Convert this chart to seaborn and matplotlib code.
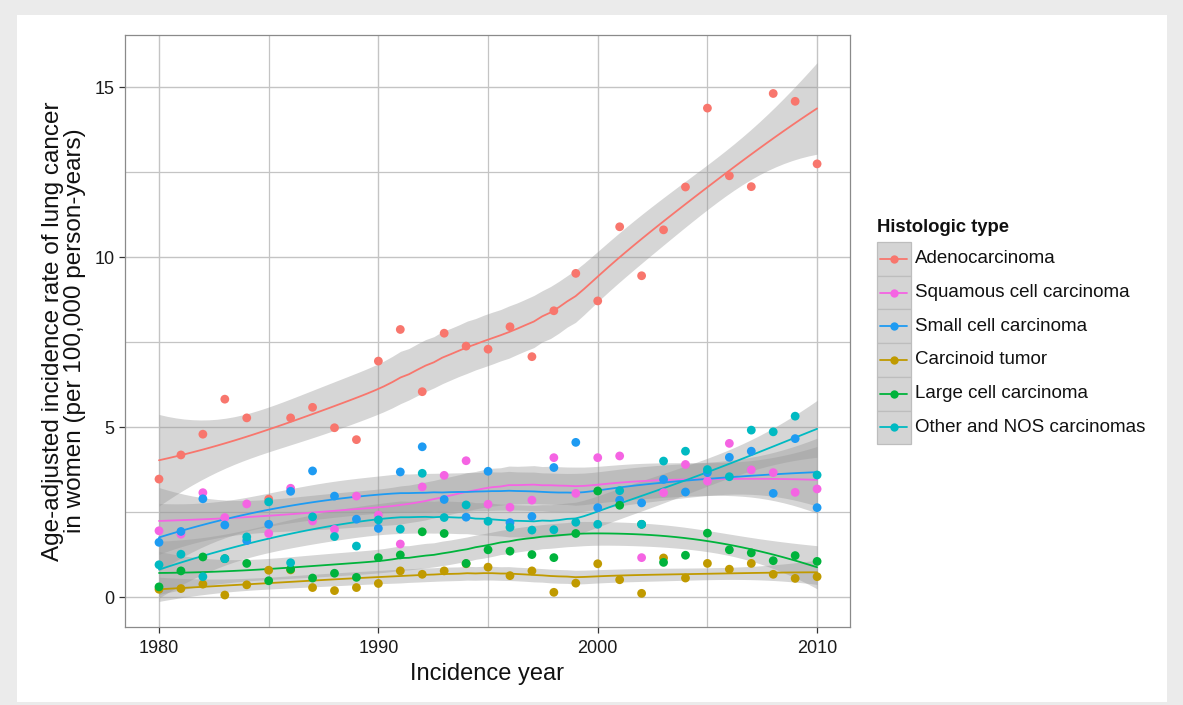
import numpy as np
import pandas as pd
import matplotlib
matplotlib.use("Agg")
import matplotlib.pyplot as plt
import seaborn as sns
from matplotlib.patches import Rectangle

# ---------------- data ----------------
years = list(range(1980, 2011))
adeno = [3.47, 4.18, 4.79, 5.82, 5.27, 2.88, 5.27, 5.58, 4.98, 4.63, 6.94, 7.87, 6.04, 7.76, 7.38,
         7.29, 7.95, 7.07, 8.42, 9.52, 8.71, 10.89, 9.45, 10.80, 12.06, 14.38, 12.39, 12.07, 14.81,
         14.58, 12.74]
squamous = [1.95, 1.85, 3.07, 2.34, 2.74, 1.87, 3.20, 2.24, 1.99, 2.97, 2.41, 1.56, 3.24, 3.58, 4.01,
            2.73, 2.64, 2.85, 4.10, 3.05, 4.10, 4.15, 1.16, 3.07, 3.90, 3.41, 4.52, 3.74, 3.66, 3.08,
            3.18]
small_cell = [1.61, 1.93, 2.89, 2.12, 1.66, 2.14, 3.11, 3.71, 2.97, 2.29, 2.02, 3.68, 4.42, 2.87, 2.35,
              3.70, 2.19, 2.37, 3.81, 4.55, 2.63, 2.85, 2.77, 3.46, 3.09, 3.66, 4.11, 4.29, 3.05, 4.66,
              2.63]
carcinoid = [0.23, 0.25, 0.38, 0.06, 0.36, 0.79, 0.80, 0.28, 0.19, 0.28, 0.40, 0.77, 0.67, 0.77, 0.98,
             0.88, 0.63, 0.77, 0.14, 0.41, 0.98, 0.51, 0.11, 1.15, 0.56, 0.99, 0.82, 0.99, 0.67, 0.55,
             0.60]
large_cell = [0.30, 0.77, 1.18, 1.13, 0.99, 0.48, 0.82, 0.56, 0.70, 0.58, 1.16, 1.24, 1.92, 1.87, 0.99,
              1.39, 1.35, 1.25, 1.16, 1.87, 3.12, 2.70, 2.14, 1.02, 1.23, 1.88, 1.39, 1.30, 1.07, 1.22,
              1.05]
other_nos = [0.95, 1.26, 0.60, 1.13, 1.77, 2.80, 1.01, 2.36, 1.78, 1.50, 2.27, 2.00, 3.64, 2.34, 2.71,
             2.23, 2.05, 1.97, 1.98, 2.20, 2.14, 3.13, 2.14, 4.00, 4.29, 3.75, 3.54, 4.91, 4.86, 5.32,
             3.59]

types = ["Adenocarcinoma", "Squamous cell carcinoma", "Small cell carcinoma",
         "Carcinoid tumor", "Large cell carcinoma", "Other and NOS carcinomas"]
series = [adeno, squamous, small_cell, carcinoid, large_cell, other_nos]
colors = ["#F8766D", "#F564E3", "#1E9BF2", "#C09A00", "#00B33C", "#00BAC2"]
palette = dict(zip(types, colors))

df = pd.concat([pd.DataFrame({"year": years, "rate": v, "type": t}) for t, v in zip(types, series)],
               ignore_index=True)


# ---------------- loess (span 0.75, degree 2) with 95% CI ----------------
def loess_weights(x, x0, span=0.75):
    n = len(x)
    q = int(np.floor(n * span))
    d = np.abs(x - x0)
    h = np.sort(d)[q - 1]
    u = np.clip(d / h, 0, 1)
    w = (1 - u ** 3) ** 3
    X = np.column_stack([np.ones(n), x - x0, (x - x0) ** 2])
    XtW = X.T * w
    A = XtW @ X
    return np.linalg.solve(A, XtW)[0]


def loess_fit(x, y, grid, span=0.75):
    x = np.asarray(x, float)
    y = np.asarray(y, float)
    n = len(x)
    L = np.array([loess_weights(x, xi, span) for xi in x])
    IL = np.eye(n) - L
    M = IL.T @ IL
    d1 = np.trace(M)
    d2 = np.trace(M @ M)
    sigma = np.sqrt(np.sum((IL @ y) ** 2) / d1)
    dfree = d1 ** 2 / d2
    z = 1.959964
    t = z + (z ** 3 + z) / (4 * dfree) + (5 * z ** 5 + 16 * z ** 3 + 3 * z) / (96 * dfree ** 2)
    Lg = np.array([loess_weights(x, g, span) for g in grid])
    fit = Lg @ y
    se = sigma * np.sqrt(np.sum(Lg ** 2, axis=1))
    return fit, fit - t * se, fit + t * se


# ---------------- style ----------------
sns.set_theme(style="white")
plt.rcParams["font.family"] = ["Liberation Sans", "DejaVu Sans"]

W, H = 1183, 705
fig = plt.figure(figsize=(W / 100, H / 100), dpi=100)
fig.patch.set_facecolor("#ebebeb")
fig.patches.append(Rectangle((17 / W, 3 / H), (1167 - 17) / W, (690 - 3) / H,
                             transform=fig.transFigure, facecolor="white", edgecolor="none",
                             zorder=-10))

ax = fig.add_axes([125 / W, (H - 627) / H, (850 - 125) / W, (627 - 35) / H])
ax.set_zorder(1)
ax.set_facecolor("white")

grid = np.linspace(min(years), max(years), 80)
fits = [loess_fit(years, v, grid) for v in series]
for (fit, lo, hi) in fits:
    ax.fill_between(grid, lo, hi, color="#999999", alpha=0.4, linewidth=0, zorder=1)
for t, (fit, lo, hi) in zip(types, fits):
    ax.plot(grid, fit, color=palette[t], lw=1.3, zorder=2)

sns.scatterplot(data=df, x="year", y="rate", hue="type", palette=palette, s=40,
                edgecolor="none", linewidth=0, legend=False, ax=ax, zorder=3)

ax.set_xlim(1978.45, 2011.5)
ax.set_ylim(-0.88, 16.53)
ax.set_xticks([1980, 1990, 2000, 2010])
ax.set_yticks([0, 5, 10, 15])
ax.set_xticks([1985, 1995, 2005], minor=True)
ax.set_yticks([2.5, 7.5, 12.5], minor=True)
ax.grid(True, which="major", color="#c4c4c4", lw=1.0, zorder=0)
ax.grid(True, which="minor", color="#c4c4c4", lw=0.9, zorder=0)
ax.set_axisbelow(True)
for s in ax.spines.values():
    s.set_color("#8a8a8a")
    s.set_linewidth(0.9)
ax.tick_params(which="major", length=4.5, width=0.9, color="#333333", labelsize=13,
               labelcolor="#1a1a1a", pad=3, bottom=True, left=True)
ax.tick_params(axis="x", which="major", pad=5)
ax.tick_params(which="minor", length=0)

ax.set_xlabel("Incidence year", fontsize=17, color="#111111", labelpad=4)
ax.set_ylabel("Age-adjusted incidence rate of lung cancer\nin women (per 100,000 person-years)",
              fontsize=17.5, color="#111111", labelpad=6, linespacing=1.0)

# ---------------- legend (drawn in figure pixel coordinates) ----------------
lax = fig.add_axes([0, 0, 1, 1], facecolor="none")
lax.set_xlim(0, W)
lax.set_ylim(H, 0)
lax.axis("off")
key_x, key_top, key_w, key_h = 877, 242, 34, 33.7
lax.text(key_x, 227.5, "Histologic type", fontsize=13.3, fontweight="bold", color="#111111",
         ha="left", va="center")
for i, (t, c) in enumerate(zip(types, colors)):
    y0 = key_top + i * key_h
    lax.add_patch(Rectangle((key_x, y0), key_w, key_h, facecolor="#d4d4d4", edgecolor="#bdbdbd",
                            linewidth=0.9))
    yc = y0 + key_h / 2
    lax.plot([key_x + 3, key_x + key_w - 4], [yc, yc], color=c, lw=1.3)
    lax.plot([key_x + key_w / 2], [yc], marker="o", markersize=6, color=c, markeredgewidth=0)
    lax.text(key_x + key_w + 4, yc, t, fontsize=13.5, color="#111111", ha="left", va="center")

fig.savefig("out.png", dpi=100, facecolor=fig.get_facecolor())
